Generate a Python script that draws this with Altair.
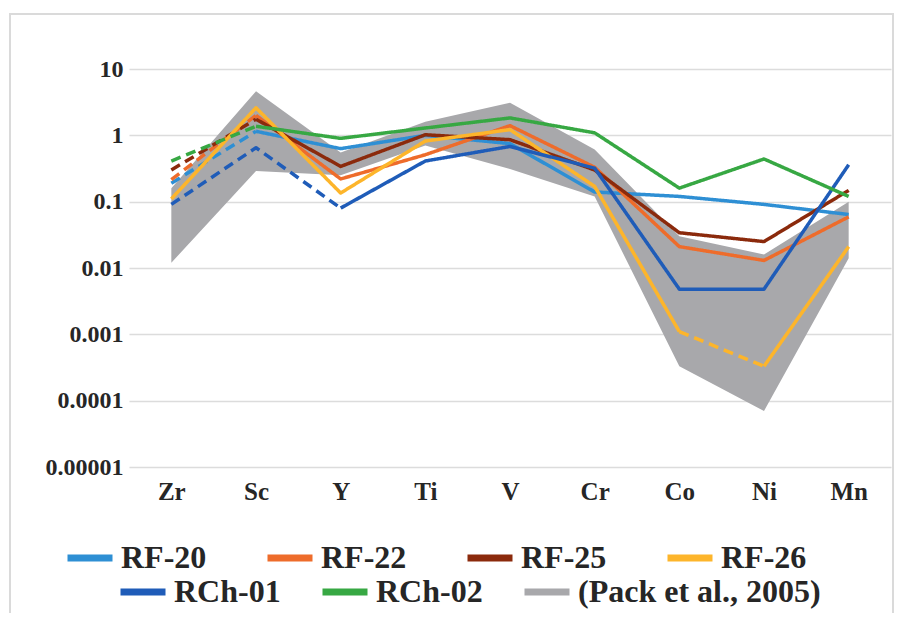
import altair as alt
import pandas as pd

elements = ["Zr", "Sc", "Y", "Ti", "V", "Cr", "Co", "Ni", "Mn"]

rf20 = [0.19, 1.15, 0.63, 1.0, 0.75, 0.14, 0.12, 0.091, 0.064]
rf22 = [0.215, 2.0, 0.22, 0.51, 1.4, 0.33, 0.021, 0.013, 0.059]
rf25 = [0.30, 1.75, 0.34, 1.02, 0.86, 0.30, 0.034, 0.025, 0.148]
rf26 = [0.11, 2.6, 0.135, 0.82, 1.22, 0.17, 0.0011, 0.00033, 0.021]
rch01 = [0.091, 0.65, 0.08, 0.41, 0.68, 0.32, 0.0048, 0.0048, 0.36]
rch02 = [0.41, 1.37, 0.9, 1.29, 1.83, 1.09, 0.16, 0.44, 0.12]

pack_upper = [0.16, 4.6, 0.55, 1.6, 3.1, 0.61, 0.03, 0.016, 0.1]
pack_lower = [0.012, 0.29, 0.25, 0.7, 0.31, 0.12, 0.00033, 0.00007, 0.014]

# index of segments (element i -> i+1) drawn dashed
rf20_dashed = [0]
rf22_dashed = [0]
rf25_dashed = [0]
rf26_dashed = [6]
rch01_dashed = [0, 1]
rch02_dashed = [0]

rf_names = ["RF-20", "RF-22", "RF-25", "RF-26"]
rf_colors = ["#2E8FD4", "#EE6C2B", "#8B2A0C", "#FDB52B"]
rch_names = ["RCh-01", "RCh-02", "(Pack et al., 2005)"]
rch_colors = ["#1F5CB8", "#37A843", "#A8A8AB"]

y_ticks = [0.00001, 0.0001, 0.001, 0.01, 0.1, 1, 10]

FONT = "Liberation Serif, Times New Roman, serif"
TXT = "#262626"


def build(name, values, dashed):
    rows = []
    runs = []
    cur = None
    for i in range(len(values) - 1):
        style = "dashed" if i in dashed else "solid"
        if cur is None or cur[0] != style:
            cur = [style, [i, i + 1]]
            runs.append(cur)
        else:
            cur[1].append(i + 1)
    for r, (style, idxs) in enumerate(runs):
        for k in idxs:
            rows.append({"series": name, "run": f"{name}-{r}", "style": style,
                         "element": elements[k], "idx": k, "value": values[k]})
    return pd.DataFrame(rows)


x_axis = alt.Axis(title=None, domain=False, ticks=False, grid=False,
                  labelPadding=12, labelAngle=0, labelFontSize=25)
y_axis = alt.Axis(title=None, domain=False, ticks=False, values=y_ticks,
                  format=".5~f", labelPadding=6, grid=True, labelFontSize=24)
x_scale = alt.Scale(type="point", domain=elements, padding=0.5)
y_scale = alt.Scale(type="log", domain=[0.00001, 10])

band = pd.DataFrame({"element": elements, "lower": pack_lower, "upper": pack_upper})

area = alt.Chart(band).mark_area(color="#A8A8AB", opacity=1).encode(
    x=alt.X("element:N", sort=elements, scale=x_scale, axis=x_axis),
    y=alt.Y("lower:Q", scale=y_scale, axis=y_axis),
    y2="upper:Q",
)


def line_layer(name, values, dashed, domain, rng, lx, ly, pad):
    df = build(name, values, dashed)
    return alt.Chart(df).mark_line(strokeWidth=3.5, strokeJoin="round").encode(
        x=alt.X("element:N", sort=elements, scale=x_scale, axis=x_axis),
        y=alt.Y("value:Q", scale=y_scale, axis=y_axis),
        color=alt.Color("series:N", scale=alt.Scale(domain=domain, range=rng),
                        legend=alt.Legend(title=None, orient="none", legendX=lx,
                                          legendY=ly, direction="horizontal",
                                          columnPadding=pad)),
        strokeDash=alt.StrokeDash("style:N",
                                  scale=alt.Scale(domain=["solid", "dashed"],
                                                  range=[[1, 0], [10, 6]]),
                                  legend=None),
        detail="run:N",
        order="idx:Q",
    )


rf_layer = alt.layer(
    line_layer("RF-20", rf20, rf20_dashed, rf_names, rf_colors, -65, 463, 46),
    line_layer("RF-22", rf22, rf22_dashed, rf_names, rf_colors, -65, 463, 46),
    line_layer("RF-25", rf25, rf25_dashed, rf_names, rf_colors, -65, 463, 46),
    line_layer("RF-26", rf26, rf26_dashed, rf_names, rf_colors, -65, 463, 46),
)
rch_layer = alt.layer(
    line_layer("RCh-01", rch01, rch01_dashed, rch_names, rch_colors, -12, 497, 27),
    line_layer("RCh-02", rch02, rch02_dashed, rch_names, rch_colors, -12, 497, 27),
)

frame = alt.Chart(pd.DataFrame({"a": [0]})).mark_rect(
    fill=None, stroke="#DADADA", strokeWidth=2
).encode(x=alt.value(-119), x2=alt.value(764), y=alt.value(-55), y2=alt.value(580))

chart = alt.layer(frame, area, rf_layer, rch_layer).resolve_scale(
    color="independent"
).properties(
    width=762, height=398,
    autosize=alt.AutoSizeParams(type="none"),
    padding={"left": 121, "top": 61, "right": 3, "bottom": 146},
    background="white",
).configure_view(stroke=None).configure_axis(
    labelFont=FONT, labelFontWeight="bold", labelColor=TXT,
    gridColor="#DCDCDC", gridWidth=1.5,
).configure_legend(
    labelFont=FONT, labelFontSize=32, labelFontWeight="bold", labelColor=TXT,
    symbolType="stroke", symbolSize=2025, symbolStrokeWidth=7, labelOffset=5,
    padding=0, labelLimit=400,
)

chart.save("out.html", embed_options={"renderer": "svg", "actions": False})
